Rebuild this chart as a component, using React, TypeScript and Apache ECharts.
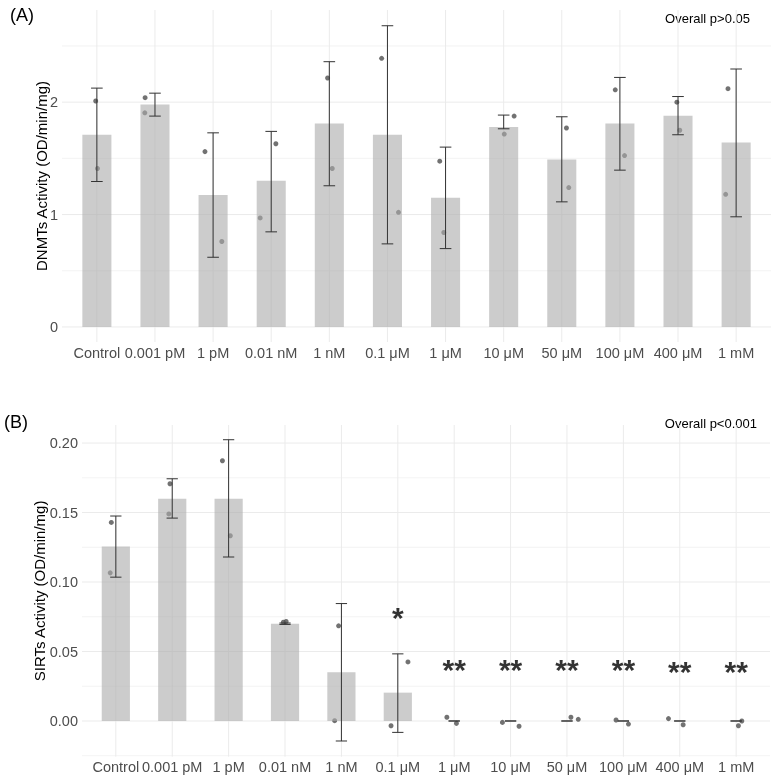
import React, { useEffect, useRef } from "react";
import * as echarts from "echarts";

const categories = ["Control", "0.001 pM", "1 pM", "0.01 nM", "1 nM", "0.1 μM", "1 μM", "10 μM", "50 μM", "100 μM", "400 μM", "1 mM"];

// Panel A: DNMTs activity
const dnmtMean = [1.71, 1.98, 1.175, 1.30, 1.81, 1.71, 1.15, 1.78, 1.49, 1.81, 1.88, 1.64];
const dnmtUpper = [2.125, 2.08, 1.727, 1.74, 2.36, 2.68, 1.60, 1.885, 1.87, 2.22, 2.05, 2.295];
const dnmtLower = [1.294, 1.876, 0.62, 0.846, 1.256, 0.739, 0.697, 1.763, 1.113, 1.395, 1.71, 0.98];
const dnmtRep1 = [2.01, 2.04, 1.56, 1.63, 2.215, 2.39, 1.475, 1.876, 1.77, 2.11, 2.0, 2.12];
const dnmtRep2 = [1.41, 1.905, 0.76, 0.97, 1.41, 1.02, 0.84, 1.716, 1.24, 1.525, 1.75, 1.18];
const dnmtJit1 = [-0.02, -0.17, -0.14, 0.08, -0.03, -0.1, -0.1, 0.18, 0.08, -0.08, -0.02, -0.14];
const dnmtJit2 = [0.01, -0.175, 0.15, -0.19, 0.05, 0.19, -0.03, 0.01, 0.12, 0.08, 0.03, -0.18];
const dnmtTicks = [0, 1, 2];
const dnmtMajor = [0, 1, 2];
const dnmtMinor = [0.5, 1.5, 2.5];

// Panel B: SIRTs activity
const sirtMean = [0.1256, 0.16, 0.16, 0.0699, 0.0351, 0.0204, 0, 0, 0, 0, 0, 0];
const sirtUpper = [0.1475, 0.1743, 0.2024, 0.0705, 0.0845, 0.0483, 0, 0, 0, 0, 0, 0];
const sirtLower = [0.1035, 0.146, 0.118, 0.0695, -0.0144, -0.0082, 0, 0, 0, 0, 0, 0];
const sirtRep1 = [0.1429, 0.1707, 0.1873, 0.0716, 0.0685, 0.0425, 0.0027, -0.001, 0.0027, 0.0007, 0.0017, 0.0];
const sirtRep2 = [0.1066, 0.149, 0.1333, 0.0711, 0.0002, -0.0034, -0.0017, -0.0038, 0.0012, -0.0022, -0.0027, -0.0034];
const sirtJit1 = [-0.08, -0.04, -0.11, 0.02, -0.05, 0.18, -0.13, -0.145, 0.07, -0.13, -0.2, 0.1];
const sirtJit2 = [-0.1, -0.06, 0.03, -0.03, -0.12, -0.12, 0.04, 0.15, 0.2, 0.09, 0.06, 0.04];
const sirtSig = ["", "", "", "", "", "*", "**", "**", "**", "**", "**", "**"];
const sirtSigY = [0, 0, 0, 0, 0, 0.0748, 0.0368, 0.0368, 0.0368, 0.0368, 0.0356, 0.0356];
const sirtTicks = [0, 0.05, 0.1, 0.15, 0.2];
const sirtMajor = [0, 0.05, 0.1, 0.15, 0.2];
const sirtMinor = [-0.025, 0.025, 0.075, 0.125, 0.175];

const FONT = "'Liberation Sans', Arial, sans-serif";
const GRID_COLOR = "#EBEBEB";
const BAR_COLOR = "rgba(172,172,172,0.61)";
const POINT_COLOR = "#4f4f4f";
const ERR_COLOR = "#333333";
const CAP_HALF = 0.1;

const idx = categories.map((_, i) => i);

function panelSeries(p: number, mean: number[], upper: number[], lower: number[], r1: number[], r2: number[], j1: number[], j2: number[], major: number[], minor: number[]) {
  const hData = [
    ...major.map((v) => [0, v, 1]),
    ...minor.map((v) => [0, v, 0]),
  ];
  const series: any[] = [
    {
      type: "custom",
      xAxisIndex: p,
      yAxisIndex: p,
      z: 0,
      silent: true,
      encode: { x: 0, y: 1 },
      data: hData,
      renderItem: (params: any, api: any) => {
        const cs = params.coordSys;
        const y = api.coord([0, api.value(1)])[1];
        const isMajor = api.value(2) === 1;
        return {
          type: "line",
          shape: { x1: cs.x, y1: y, x2: cs.x + cs.width, y2: y },
          style: { stroke: GRID_COLOR, lineWidth: isMajor ? 1 : 0.6 },
        };
      },
    },
    {
      type: "custom",
      xAxisIndex: p,
      yAxisIndex: p,
      z: 0,
      silent: true,
      encode: { x: 0, y: 1 },
      data: idx.map((i) => [i, 0]),
      renderItem: (params: any, api: any) => {
        const cs = params.coordSys;
        const x = api.coord([api.value(0), 0])[0];
        return {
          type: "line",
          shape: { x1: x, y1: cs.y, x2: x, y2: cs.y + cs.height },
          style: { stroke: GRID_COLOR, lineWidth: 1 },
        };
      },
    },
    {
      type: "scatter",
      xAxisIndex: p,
      yAxisIndex: p,
      z: 1,
      symbolSize: 5,
      itemStyle: { color: POINT_COLOR },
      data: [
        ...idx.map((i) => [i + j1[i], r1[i]]),
        ...idx.map((i) => [i + j2[i], r2[i]]),
      ],
    },
    {
      type: "bar",
      xAxisIndex: p,
      yAxisIndex: p,
      z: 2,
      barWidth: "50%",
      itemStyle: { color: BAR_COLOR },
      data: idx.map((i) => [i, mean[i]]),
    },
    {
      type: "custom",
      xAxisIndex: p,
      yAxisIndex: p,
      z: 3,
      silent: true,
      encode: { x: 0, y: [1, 2] },
      data: idx.map((i) => [i, lower[i], upper[i]]),
      renderItem: (params: any, api: any) => {
        const x = api.value(0);
        const lo = api.value(1);
        const hi = api.value(2);
        const top = api.coord([x, hi]);
        const bot = api.coord([x, lo]);
        const tl = api.coord([x - CAP_HALF, hi]);
        const tr = api.coord([x + CAP_HALF, hi]);
        const bl = api.coord([x - CAP_HALF, lo]);
        const br = api.coord([x + CAP_HALF, lo]);
        const st = { stroke: ERR_COLOR, lineWidth: 1 };
        return {
          type: "group",
          children: [
            { type: "line", shape: { x1: top[0], y1: top[1], x2: bot[0], y2: bot[1] }, style: st },
            { type: "line", shape: { x1: tl[0], y1: tl[1], x2: tr[0], y2: tr[1] }, style: st },
            { type: "line", shape: { x1: bl[0], y1: bl[1], x2: br[0], y2: br[1] }, style: st },
          ],
        };
      },
    },
  ];
  return series;
}

export default function App() {
  const ref = useRef<HTMLDivElement>(null);
  useEffect(() => {
    if (!ref.current) return;
    const chart = echarts.init(ref.current, undefined, { renderer: "svg" });
    const xAxisBase = (gridIndex: number) => ({
      type: "value",
      gridIndex,
      min: -0.6,
      max: 11.6,
      axisLine: { show: false },
      axisTick: { show: false },
      splitLine: { show: false },
      axisLabel: {
        customValues: idx,
        formatter: (v: number) => categories[Math.round(v)] ?? "",
        color: "#4D4D4D",
        fontSize: 14.5,
        fontFamily: FONT,
        margin: 3,
      },
    });
    const series = [
      ...panelSeries(0, dnmtMean, dnmtUpper, dnmtLower, dnmtRep1, dnmtRep2, dnmtJit1, dnmtJit2, dnmtMajor, dnmtMinor),
      ...panelSeries(1, sirtMean, sirtUpper, sirtLower, sirtRep1, sirtRep2, sirtJit1, sirtJit2, sirtMajor, sirtMinor),
      {
        type: "scatter",
        xAxisIndex: 1,
        yAxisIndex: 1,
        z: 4,
        silent: true,
        symbolSize: 1,
        itemStyle: { color: "rgba(0,0,0,0)" },
        label: {
          show: true,
          position: "inside",
          formatter: (prm: any) => prm.value[2],
          fontSize: 30,
          fontWeight: "bold",
          color: "#000",
          fontFamily: FONT,
        },
        data: idx.filter((i) => sirtSig[i] !== "").map((i) => [i, sirtSigY[i], sirtSig[i]]),
      },
    ];
    chart.setOption({
      animation: false,
      textStyle: { fontFamily: FONT },
      grid: [
        { left: 62, right: 9, top: 10, height: 332 },
        { left: 82, right: 10, top: 425, height: 331.7 },
      ],
      xAxis: [xAxisBase(0), xAxisBase(1)],
      yAxis: [
        {
          type: "value",
          gridIndex: 0,
          min: -0.134,
          max: 2.82,
          axisLine: { show: false },
          axisTick: { show: false },
          splitLine: { show: false },
          axisLabel: {
            customValues: dnmtTicks,
            formatter: (v: number) => String(v),
            color: "#4D4D4D",
            fontSize: 14.5,
            fontFamily: FONT,
            margin: 4,
          },
          name: "DNMTs Activity (OD/min/mg)",
          nameLocation: "middle",
          nameGap: 13,
          nameMoveOverlap: false,
          nameTextStyle: { color: "#000", fontSize: 15, fontFamily: FONT },
        },
        {
          type: "value",
          gridIndex: 1,
          min: -0.0257,
          max: 0.213,
          axisLine: { show: false },
          axisTick: { show: false },
          splitLine: { show: false },
          axisLabel: {
            customValues: sirtTicks,
            formatter: (v: number) => v.toFixed(2),
            color: "#4D4D4D",
            fontSize: 14.5,
            fontFamily: FONT,
            margin: 4,
          },
          name: "SIRTs Activity (OD/min/mg)",
          nameLocation: "middle",
          nameGap: 35,
          nameMoveOverlap: false,
          nameTextStyle: { color: "#000", fontSize: 15, fontFamily: FONT },
        },
      ],
      graphic: [
        { type: "text", x: 10, y: 15, style: { text: "(A)", fontSize: 18, fill: "#000", fontFamily: FONT, align: "left", verticalAlign: "middle" } },
        { type: "text", x: 4, y: 422, style: { text: "(B)", fontSize: 18, fill: "#000", fontFamily: FONT, align: "left", verticalAlign: "middle" } },
        { type: "text", x: 750, y: 18, style: { text: "Overall p>0.05", fontSize: 13, fill: "#000", fontFamily: FONT, align: "right", verticalAlign: "middle" } },
        { type: "text", x: 757, y: 423, style: { text: "Overall p<0.001", fontSize: 13, fill: "#000", fontFamily: FONT, align: "right", verticalAlign: "middle" } },
      ],
      series,
    });
    return () => chart.dispose();
  }, []);
  return <div ref={ref} style={{ position: "fixed", left: 0, top: 0, width: 780, height: 781 }} />;
}
